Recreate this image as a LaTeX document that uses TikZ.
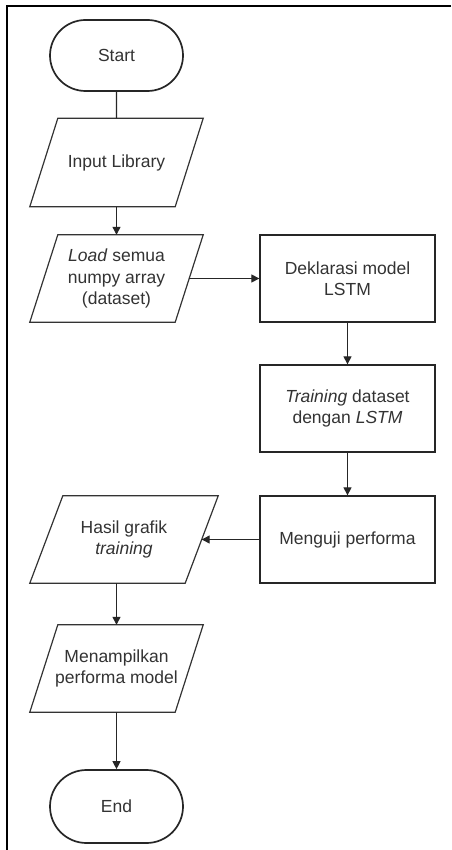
\documentclass[tikz,border=0pt]{standalone}
\usepackage{fontspec}
\setmainfont{Liberation Sans}
\usetikzlibrary{shapes.misc,arrows.meta}
\newcommand\paraframe[2][14]{%
  \draw[iostroke] ([xshift=#1pt]#2.north west) -- ([xshift=#1pt]#2.north east)
    -- ([xshift=-#1pt]#2.south east) -- ([xshift=-#1pt]#2.south west) -- cycle;}
\begin{document}
\begin{tikzpicture}[x=1pt,y=-1pt,
  every node/.style={font=\fontsize{17.5}{21.5}\selectfont, text=black!80, align=center},
  term/.style={rounded rectangle, draw=black!85, line width=1.7pt, minimum width=133pt, minimum height=71pt, inner sep=0pt},
  io/.style={rectangle, minimum width=145pt, minimum height=88pt, inner sep=0pt},
  iostroke/.style={draw=black!80, line width=1.2pt, line join=miter},
  proc/.style={rectangle, draw=black!85, line width=1.3pt, minimum width=175pt, minimum height=87pt, inner sep=0pt},
  arr/.style={draw=black!85, line width=1.2pt, -{Triangle[length=8pt,width=8pt]}},
  conn/.style={draw=black!85, line width=1.2pt},
  frame/.style={draw=black, line width=2pt}]
\useasboundingbox (0,0) rectangle (451,850);
\fill[white] (0,0) rectangle (451,850);
\draw[frame] (451,6.5) -- (7,6.5) -- (7,850);

\node[term] (start) at (116.5,55.5) {Start};
\node[io] (input) at (116.5,162.5) {Input Library};
\node[io, minimum height=87pt] (load) at (116.5,278.5) {\textit{Load} semua\\numpy array\\(dataset)};
\node[proc] (dekl) at (347.5,278.5) {Deklarasi model\\LSTM};
\node[proc] (train) at (347.5,408.5) {\textit{Training} dataset\\dengan \textit{LSTM}};
\node[proc] (uji) at (347.5,539.5) {Menguji performa};
\node[io, minimum width=155pt, minimum height=87pt] (hasil) at (124,539.5) {Hasil grafik\\\textit{training}};
\node[io, minimum height=87pt] (tampil) at (116.5,668.5) {Menampilkan\\performa model};
\node[term, minimum height=73pt] (end) at (116.5,806.5) {End};

\paraframe{input}
\paraframe{load}
\paraframe[16.5]{hasil}
\paraframe{tampil}

\draw[conn] (start) -- (input);
\draw[arr] (input) -- (load);
\draw[arr] (load) -- (dekl);
\draw[arr] (dekl) -- (train);
\draw[arr] (train) -- (uji);
\draw[arr] (uji) -- (hasil);
\draw[arr] (hasil.south -| tampil.north) -- (tampil.north);
\draw[arr] (tampil) -- (end);
\end{tikzpicture}
\end{document}
